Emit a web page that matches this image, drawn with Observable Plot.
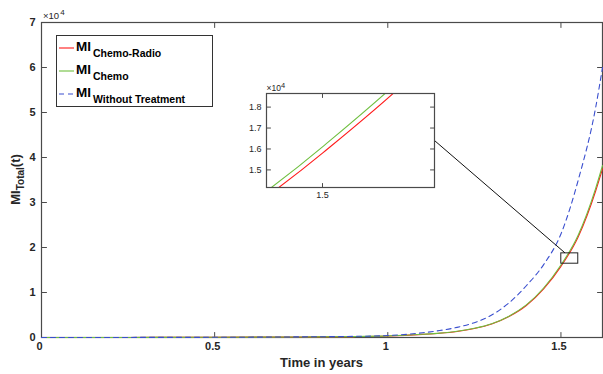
<!DOCTYPE html>
<html>
<head>
<meta charset="utf-8">
<script src="https://cdn.jsdelivr.net/npm/d3@7"></script>
<script src="https://cdn.jsdelivr.net/npm/@observablehq/plot@0.6"></script>
<style>
  html, body { margin: 0; padding: 0; background: #fff; }
  #wrap { position: relative; width: 603px; height: 374px; }
  #wrap svg { display: block; }
</style>
</head>
<body>
<div id="wrap"></div>
<script>
// ---- data ----
const time             = [0, 0.25, 0.5, 0.75, 0.9, 1.0, 1.1, 1.15, 1.2, 1.25, 1.3, 1.35, 1.4, 1.45, 1.5, 1.55, 1.6, 1.62];
const chemoRadio       = [5, 15, 40, 120, 200, 350, 700, 950, 1350, 2000, 3000, 4650, 7100, 10800, 15800, 22400, 32500, 37500];
const chemo            = [5, 15, 41, 122, 205, 360, 715, 970, 1380, 2040, 3060, 4740, 7240, 11000, 16100, 22800, 33100, 38200];
const withoutTreatment = [5, 15, 45, 140, 250, 430, 1050, 1550, 2250, 3300, 5000, 7700, 11500, 16200, 23000, 35000, 51000, 60000];

const seriesNames = ["Chemo-Radio", "Chemo", "Without Treatment"];
const xTicks = [0, 0.5, 1, 1.5];
const yTicks = [0, 10000, 20000, 30000, 40000, 50000, 60000, 70000];
const xDomain = [0, 1.62];
const yDomain = [0, 70000];

// zoomed region (box on main chart) and inset axes
const zoomT  = [1.501, 1.55];
const zoomMI = [16400, 18700];
const connectorT = 1.513;
const insetT  = [1.481, 1.538];
const insetMI = [14160, 18650];
const insetXTicks = [1.5];
const insetYTicks = [15000, 16000, 17000, 18000];

// ---- styling ----
const fontFamily = '"Liberation Sans", Arial, Helvetica, sans-serif';
const colors = ["#ff1a1a", "#6fbf3f", "#3a4fcf"];
const dashes = [null, null, "5,4"];
const axisColor = "#4a4a4a";

const rows = time.map((t, i) => ({t, chemoRadio: chemoRadio[i], chemo: chemo[i], none: withoutTreatment[i]}));
const keys = ["chemoRadio", "chemo", "none"];

function seriesMarks(extra, which = [0, 1, 2]) {
  return which.map(i => Plot.line(rows, {
    x: "t", y: keys[i], stroke: colors[i], strokeWidth: 1.1,
    strokeDasharray: dashes[i] || undefined, curve: "monotone-x", ...extra
  }));
}

// inward tick marks on all four sides (MATLAB box style)
const tickShape = {draw(context, l) { context.moveTo(0, 0); context.lineTo(0, -l); }};
function inwardTicks(xt, yt, xd, yd, len) {
  const common = {length: len, shape: tickShape, anchor: "start", stroke: axisColor, strokeWidth: 1};
  return [
    Plot.vector(yt, {x: () => xd[0], y: d => d, rotate: 90, ...common}),
    Plot.vector(yt, {x: () => xd[1], y: d => d, rotate: -90, ...common}),
    Plot.vector(xt, {x: d => d, y: () => yd[0], rotate: 0, ...common}),
    Plot.vector(xt, {x: d => d, y: () => yd[1], rotate: 180, ...common})
  ];
}

// ---- main chart ----
const main = Plot.plot({
  width: 603, height: 374,
  marginLeft: 41, marginRight: 1, marginTop: 22, marginBottom: 37,
  style: {fontFamily, fontSize: "11px", fontWeight: "bold", color: "#262626", background: "white", overflow: "visible"},
  x: {domain: xDomain},
  y: {domain: yDomain},
  marks: [
    Plot.frame({stroke: axisColor, strokeWidth: 1.2}),
    ...inwardTicks(xTicks, yTicks, xDomain, yDomain, 5),
    ...seriesMarks({}),
    Plot.rect([{x1: zoomT[0], x2: zoomT[1], y1: zoomMI[0], y2: zoomMI[1]}],
      {x1: "x1", x2: "x2", y1: "y1", y2: "y2", stroke: "#222", fill: "none", strokeWidth: 1}),
    Plot.axisX(xTicks, {anchor: "bottom", tickSize: 0, tickPadding: 5, dx: -2, tickFormat: d => String(d), label: null}),
    Plot.axisY(yTicks, {anchor: "left", tickSize: 0, tickPadding: 6, tickFormat: d => String(d / 1e4), label: null})
  ]
});
document.getElementById("wrap").appendChild(main);

const svg = d3.select(main);
const xs = main.scale("x"), ys = main.scale("y");

// x title
svg.append("text")
  .attr("x", (41 + 602) / 2).attr("y", 367)
  .attr("text-anchor", "middle")
  .attr("font-family", fontFamily).attr("font-size", 13).attr("font-weight", "bold").attr("fill", "#262626")
  .text("Time in years");

// y title with subscript
const yt = svg.append("text")
  .attr("transform", `translate(20,${(22 + 337) / 2}) rotate(-90)`)
  .attr("text-anchor", "middle")
  .attr("font-family", fontFamily).attr("font-weight", "bold").attr("fill", "#262626").attr("font-size", 13);
yt.append("tspan").text("MI");
yt.append("tspan").attr("font-size", 10).attr("dy", 4).text("Total");
yt.append("tspan").attr("dy", -4).text("(t)");

// exponent label
const ex = svg.append("text").attr("x", 43).attr("y", 18.5).attr("text-anchor", "start")
  .attr("font-family", fontFamily).attr("font-size", 9.5).attr("fill", "#262626").attr("font-weight", "normal");
ex.append("tspan").text("\u00d710");
ex.append("tspan").attr("font-size", 8).attr("dy", -4).attr("dx", 1).text("4");

// legend
const lg = svg.append("g").attr("font-family", fontFamily).attr("font-weight", "bold")
  .attr("fill", "#000").attr("text-anchor", "start");
lg.append("rect").attr("x", 56.5).attr("y", 35.5).attr("width", 156).attr("height", 71)
  .attr("fill", "white").attr("stroke", "#333").attr("stroke-width", 1);
seriesNames.forEach((name, i) => {
  const base = 51 + i * 23;
  lg.append("line").attr("x1", 59).attr("x2", 74).attr("y1", base - 3).attr("y2", base - 3)
    .attr("stroke", colors[i]).attr("stroke-width", 1.1).attr("stroke-dasharray", dashes[i]);
  const t = lg.append("text").attr("x", 76).attr("y", base).attr("font-size", 13.5).attr("text-anchor", "start");
  t.append("tspan").text("MI");
  t.append("tspan").attr("font-size", 10.5).attr("dy", 6).attr("dx", 2).text(name);
});

// ---- inset ----
const insetLeft = 236, insetTop = 80;
const inset = Plot.plot({
  width: 203, height: 122,
  marginLeft: 30, marginRight: 5, marginTop: 13, marginBottom: 15,
  style: {fontFamily, fontSize: "9px", fontWeight: "normal", color: "#262626", background: "none", overflow: "visible"},
  x: {domain: insetT},
  y: {domain: insetMI},
  marks: [
    Plot.frame({fill: "white"}),
    ...seriesMarks({clip: true}, [0, 1]),
    Plot.frame({stroke: axisColor, strokeWidth: 1.2}),
    ...inwardTicks(insetXTicks, insetYTicks, insetT, insetMI, 4),
    Plot.axisX(insetXTicks, {anchor: "bottom", tickSize: 0, tickPadding: 4, tickFormat: d => d.toFixed(1), label: null}),
    Plot.axisY(insetYTicks, {anchor: "left", tickSize: 0, tickPadding: 5, tickFormat: d => (d / 1e4).toFixed(1), label: null})
  ]
});
inset.style.position = "absolute";
inset.style.left = insetLeft + "px";
inset.style.top = insetTop + "px";
document.getElementById("wrap").appendChild(inset);

const iex = d3.select(inset).append("text").attr("x", 30.5).attr("y", 10.5).attr("text-anchor", "start")
  .attr("font-family", fontFamily).attr("font-size", 8.5).attr("fill", "#262626");
iex.append("tspan").text("\u00d710");
iex.append("tspan").attr("font-size", 7.5).attr("dy", -3).text("4");

// connector from inset to zoom box
const ixs = inset.scale("x"), iys = inset.scale("y");
svg.append("line")
  .attr("x1", insetLeft + ixs.range[1]).attr("y1", insetTop + iys.apply(zoomMI[0]))
  .attr("x2", xs.apply(connectorT)).attr("y2", ys.apply(zoomMI[1]))
  .attr("stroke", "#111").attr("stroke-width", 1);
</script>
</body>
</html>
